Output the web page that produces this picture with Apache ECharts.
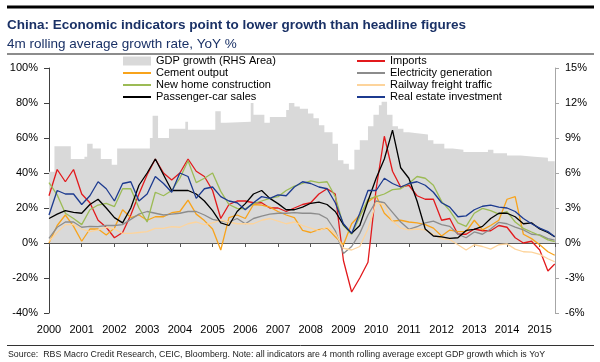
<!DOCTYPE html>
<html><head><meta charset="utf-8">
<script src="https://cdn.jsdelivr.net/npm/echarts@6/dist/echarts.min.js"></script>
<style>html,body{margin:0;padding:0;background:#fff}#c{width:600px;height:362px}</style>
</head><body><div id="c"></div>
<script>
const FONT = '"Liberation Sans", Arial, Helvetica, sans-serif';
const TITLE = 'China: Economic indicators point to lower growth than headline figures';
const SUBTITLE = '4m rolling average growth rate, YoY %';
const SOURCE = 'Source:  RBS Macro Credit Research, CEIC, Bloomberg. Note: all indicators are 4 month rolling average except GDP growth which is YoY';

const START_YEAR = 2000;
const yearLabels = [2000,2001,2002,2003,2004,2005,2006,2007,2008,2009,2010,2011,2012,2013,2014,2015];
const leftTicks = [-40,-20,0,20,40,60,80,100];
const rightTicks = [-6,-3,0,3,6,9,12,15];

// months since Jan 2000 for the line series samples
const months = [0,3,6,9,12,15,18,21,24,27,30,33,36,39,42,45,48,51,54,57,60,63,66,69,72,75,78,81,84,87,90,93,96,99,102,105,108,111,114,117,120,123,126,129,132,135,138,141,144,147,150,153,156,159,162,165,168,171,174,177,180,183,185.5];

const imports = [27,42,35,42,28,23,13,9,3,6, 16,28,39,48,40,36,40,48,41,38, 30,14,22,24,24,23,23,20,20,18, 20,22,23,28,31,28,-10,-28,-20,-11, 31,61,41,32,33,27,25,25,13,14, 5,5,8,7,7,10,9,3,0,1, -4,-16,-12];
const cement = [0,10,16,9.5,1,8,8,4.6,8.5,19, 14.5,16,13,15,15,17.3,18,24.5,16.5,12.8, 8,-4,14.5,16,14,22,21.7,20.5,18,16, 14.5,7.2,6,7.6,8.5,3.6,-1,11,16,23.5, 27,17,12.5,13,12,11.5,10.5,8.5,4,7.4, 6.5,6.5,13,7.5,10,13,25,26.5,5,2.5, -1,-5,-7];
const electricity = [2.7,9,12,12,9,9.5,9.3,10,10,10.5, 13.5,16.5,18,17,16,16.5,17,18,18,16, 13.5,12.5,12,14,11,14,15.3,16.5,17,17, 17.3,17,17,16.5,14,7,-6,-2,5.5,16, 24,23,17.5,12,7.8,9.3,11.5,12.5,10.5,9.5, 5,3,6.3,5,8,11.8,11,9.1,7.5,5, 4.6,2.5,1.7];
const newHome = [34.5,27.5,17,14,10.5,19,21.7,22.7,20.8,31, 31,20,12,29,27,30,37,47,34.5,37, 40,29.5,22,19.8,19.5,22.5,24,25.5,26.5,30, 32.5,34,35.5,34.5,35,26.5,10,5,15,25, 26.5,28,30.5,31,34,38,37,33,23.8,18.5, 11.5,9.5,17,19.8,18.5,16.5,17.9,12,8.4,6.3, 4.3,1.8,0.8];
const railway = [1,6,10.5,10.5,8,6.5,7.5,9,8,5.5, 5.5,6,6.5,8.4,8.4,9.3,9,11,12,10.5, 11.5,13,12,11,11,11,13,14,12.5,11, 12,10,8.5,7,9,5.5,-3,-4,-2,8, 23,22,12.5,8.5,7.5,8,7.5,5,2.5,2, -1,-4,-1,-2,-3.5,-1,-0.5,-3.5,-5,-5.2, -6.5,-9,-10.7];
const passengerCar = [14,16.5,18.5,17.5,17,22,25,20,14.5,11.5, 20,33,40,48,39,30,30,30,28,24, 18.5,11.5,10,18,22.5,28,30,25.5,22.5,19, 19,20.5,22.7,23.4,22,18,10.5,5.5,10,24, 37,48,64.5,43,37,24,8,4,3.5,2.7, 3,7.2,7.8,9.5,14,17,17,15,11,11.5, 8,6,3.6];
const realEstate = [16,30,28,28,22,27,35,31,24,34, 35,24,28,38,34,29,40,38,25.5,31, 32,26.5,24,23,19,23,26.5,25.5,27.5,27, 32,35,34,32,31,23,11,5.5,17,30, 30,37,34,32,34,35,33,29,23,20.5, 15,15.5,19,21,21.7,20.5,20,18,14,11, 8.5,6.5,3.6];

// GDP growth (RHS): months where the stepped value changes, and the value from that month
const gdpMonths = [0,2,8,13,14,16,19,23,25,37, 38,40,44,50,51,61,63,65,74,75, 79,81,87,88,90,92,95,97,99,101, 104,106,108,110,112,114,117,119,121,122, 124,126,128,130,132,135,139,141,145,148, 152,161,163,168,173,178,183,185.5];
const gdpValues = [6.1,8.3,7.2,7.4,8.5,8.1,7.2,6.7,8.1,9.0, 10.9,9.0,9.8,10.4,9.7,11.3,10.3,10.4,12.0,11.0, 10.3,10.8,11.4,12.0,11.7,11.5,11.1,10.7,10.1,9.5, 8.5,7.1,6.8,6.3,8.0,8.8,10.0,11.0,11.8,12.1, 11.0,10.0,9.8,9.5,9.4,9.3,8.8,8.5,8.1,8.0, 7.8,8.0,7.7,7.5,7.4,7.3,7.0,7.0];

const X_MAX = START_YEAR + 185.6 / 12;
const toYear = m => START_YEAR + m / 12;
const pairs = (ms, vs) => ms.map((m, i) => [toYear(m), vs[i]]);

const lineDefs = [
  ['Imports', imports, '#e2191c'],
  ['Cement output', cement, '#f8a31b'],
  ['Electricity generation', electricity, '#8c8c8c'],
  ['New home construction', newHome, '#9cbb55'],
  ['Railway freight traffic', railway, '#fdd49c'],
  ['Passenger-car sales', passengerCar, '#000000'],
  ['Real estate investment', realEstate, '#1c3a8f']
];

const series = [{
  name: 'GDP growth (RHS Area)', type: 'line', yAxisIndex: 1, step: 'end',
  data: pairs(gdpMonths, gdpValues), symbol: 'none',
  color: '#d9d9d9', itemStyle: {color: '#d9d9d9'},
  lineStyle: {width: 0, opacity: 0}, areaStyle: {color: '#d9d9d9', opacity: 1}, z: 1
}].concat(lineDefs.map(([name, vals, col]) => ({
  name, type: 'line', yAxisIndex: 0, data: pairs(months, vals), symbol: 'none',
  color: col, itemStyle: {color: col}, lineStyle: {color: col, width: 1.3}, z: 3
})));

const legendCommon = {
  orient: 'vertical', padding: 0, itemGap: 0, itemWidth: 28, itemHeight: 9,
  selectedMode: false,
  itemStyle: {opacity: 0},
  textStyle: {fontFamily: FONT, fontSize: 11, color: '#000', lineHeight: 12, padding: [0, 0, 0, 0]}
};

const chart = echarts.init(document.getElementById('c'), null, {renderer: 'canvas'});
chart.setOption({
  animation: false,
  backgroundColor: '#fff',
  textStyle: {fontFamily: FONT},
  grid: {left: 49, right: 45, top: 68, bottom: 49, containLabel: false},
  legend: [
    Object.assign({}, legendCommon, {left: 122, top: 55,
      data: [{name: 'GDP growth (RHS Area)', icon: 'rect', itemStyle: {opacity: 1, color: '#d9d9d9'}}, 'Cement output', 'New home construction', 'Passenger-car sales']}),
    Object.assign({}, legendCommon, {left: 356, top: 55,
      data: ['Imports', 'Electricity generation', 'Railway freight traffic', 'Real estate investment']})
  ],
  xAxis: [{
    type: 'value', min: START_YEAR, max: X_MAX, interval: 1, position: 'bottom',
    axisLine: {show: false, onZero: false}, axisTick: {show: false}, splitLine: {show: false},
    axisLabel: {fontFamily: FONT, fontSize: 11, color: '#000', margin: 11,
      formatter: v => (yearLabels.indexOf(Math.round(v)) >= 0 && Math.abs(v - Math.round(v)) < 1e-6) ? String(Math.round(v)) : ''}
  }, {
    type: 'value', min: START_YEAR, max: X_MAX, interval: 1, position: 'bottom',
    axisLine: {show: true, onZero: true, onZeroAxisIndex: 0, lineStyle: {color: '#595959', width: 1}},
    axisTick: {show: true, length: 4, lineStyle: {color: '#595959'}},
    axisLabel: {show: false}, splitLine: {show: false}
  }],
  yAxis: [{
    type: 'value', min: leftTicks[0], max: leftTicks[leftTicks.length - 1], interval: 20, position: 'left',
    axisLine: {show: true, onZero: false, lineStyle: {color: '#404040', width: 1}},
    axisTick: {show: true, length: 5, lineStyle: {color: '#404040'}},
    splitLine: {show: false},
    axisLabel: {fontFamily: FONT, fontSize: 11, color: '#000', margin: 11, formatter: '{value}%'}
  }, {
    type: 'value', min: rightTicks[0], max: rightTicks[rightTicks.length - 1], interval: 3, position: 'right',
    axisLine: {show: true, onZero: false, lineStyle: {color: '#a6a6a6', width: 1}},
    axisTick: {show: true, length: 4, lineStyle: {color: '#a6a6a6'}},
    splitLine: {show: false},
    axisLabel: {fontFamily: FONT, fontSize: 11, color: '#000', margin: 10, formatter: '{value}%'}
  }],
  graphic: [
    {type: 'rect', shape: {x: 7, y: 5.5, width: 587, height: 3}, style: {fill: '#000'}, silent: true},
    {type: 'text', x: 7, y: 25, style: {text: TITLE, fontFamily: FONT, fontSize: 13.5, fontWeight: 'bold', fill: '#1a3166', verticalAlign: 'middle', align: 'left'}},
    {type: 'text', x: 7, y: 44, style: {text: SUBTITLE, fontFamily: FONT, fontSize: 13.5, fill: '#1a3166', verticalAlign: 'middle', align: 'left'}},
    {type: 'line', shape: {x1: 7, y1: 54, x2: 594, y2: 54}, style: {stroke: '#666', lineWidth: 1.5}},
    {type: 'line', shape: {x1: 7, y1: 345.5, x2: 594, y2: 345.5}, style: {stroke: '#333', lineWidth: 1}},
    {type: 'text', x: 8, y: 354.5, style: {text: SOURCE, fontFamily: FONT, fontSize: 8.8, fill: '#222', verticalAlign: 'middle', align: 'left'}}
  ],
  series
});
</script></body></html>
